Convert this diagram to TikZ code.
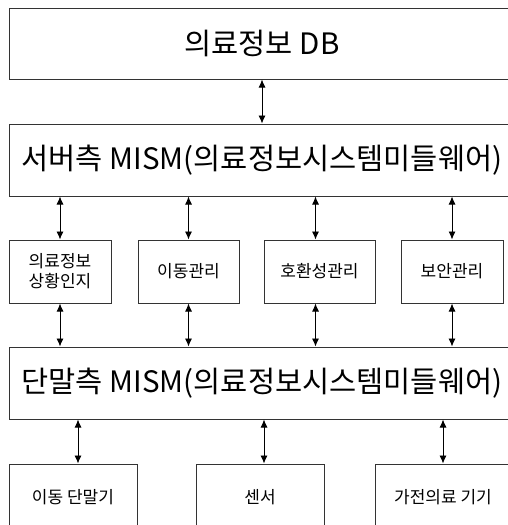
\documentclass[tikz,border=0pt]{standalone}
\usepackage{fontspec}
\setmainfont{Noto Sans CJK KR}
\usetikzlibrary{arrows.meta}
\definecolor{lin}{HTML}{333333}
\tikzset{
  box/.style={draw=lin, line width=1pt, rectangle, inner sep=0pt, anchor=center},
  bigtxt/.style={font=\fontsize{29.5}{33}\selectfont},
  smalltxt/.style={font=\fontsize{17}{20}\selectfont, align=center},
  arr/.style={draw=black, line width=0.9pt, {Latex[length=8pt,width=7pt]}-{Latex[length=8pt,width=7pt]}}
}
\begin{document}
\begin{tikzpicture}[x=1pt,y=-1pt]
\useasboundingbox (0,0) rectangle (508,525);
\clip (0,0) rectangle (508,525);
\fill[white] (0,0) rectangle (508,525);
% top-level boxes
\node[box,bigtxt,minimum width=506pt,minimum height=71pt] (db) at (262,43.5) {의료정보 DB};
\node[box,bigtxt,minimum width=506pt,minimum height=72pt] (srv) at (262,160) {서버측 MISM(의료정보시스템미들웨어)};
\node[box,smalltxt,minimum width=102pt,minimum height=63pt] (s1) at (60,271.5) {의료정보\\상황인지};
\node[box,smalltxt,minimum width=101pt,minimum height=63pt] (s2) at (188.5,271.5) {이동관리};
\node[box,smalltxt,minimum width=111pt,minimum height=63pt] (s3) at (319.5,271.5) {호환성관리};
\node[box,smalltxt,minimum width=102pt,minimum height=63pt] (s4) at (452,271.5) {보안관리};
\node[box,bigtxt,minimum width=506pt,minimum height=72pt] (trm) at (262,383) {단말측 MISM(의료정보시스템미들웨어)};
\node[box,smalltxt,minimum width=128pt,minimum height=66pt] (b1) at (73,497) {이동 단말기};
\node[box,smalltxt,minimum width=128pt,minimum height=66pt] (b2) at (260,497) {센서};
\node[box,smalltxt,minimum width=136pt,minimum height=66pt] (b3) at (443,497) {가전의료 기기};
% connectors
\draw[arr] (db.south) -- (srv.north);
\draw[arr] (srv.south -| s1.north) -- (s1.north);
\draw[arr] (srv.south -| s2.north) -- (s2.north);
\draw[arr] ([xshift=-4pt]s3.north |- srv.south) -- ([xshift=-4pt]s3.north);
\draw[arr] (srv.south -| s4.north) -- (s4.north);
\draw[arr] (s1.south) -- (s1.south |- trm.north);
\draw[arr] (s2.south) -- (s2.south |- trm.north);
\draw[arr] ([xshift=-4pt]s3.south) -- ([xshift=-4pt]s3.south |- trm.north);
\draw[arr] (s4.south) -- (s4.south |- trm.north);
\draw[arr] ([xshift=5pt]b1.north |- trm.south) -- ([xshift=5pt]b1.north);
\draw[arr] ([xshift=4pt]b2.north |- trm.south) -- ([xshift=4pt]b2.north);
\draw[arr] (trm.south -| b3.north) -- (b3.north);
\end{tikzpicture}
\end{document}
